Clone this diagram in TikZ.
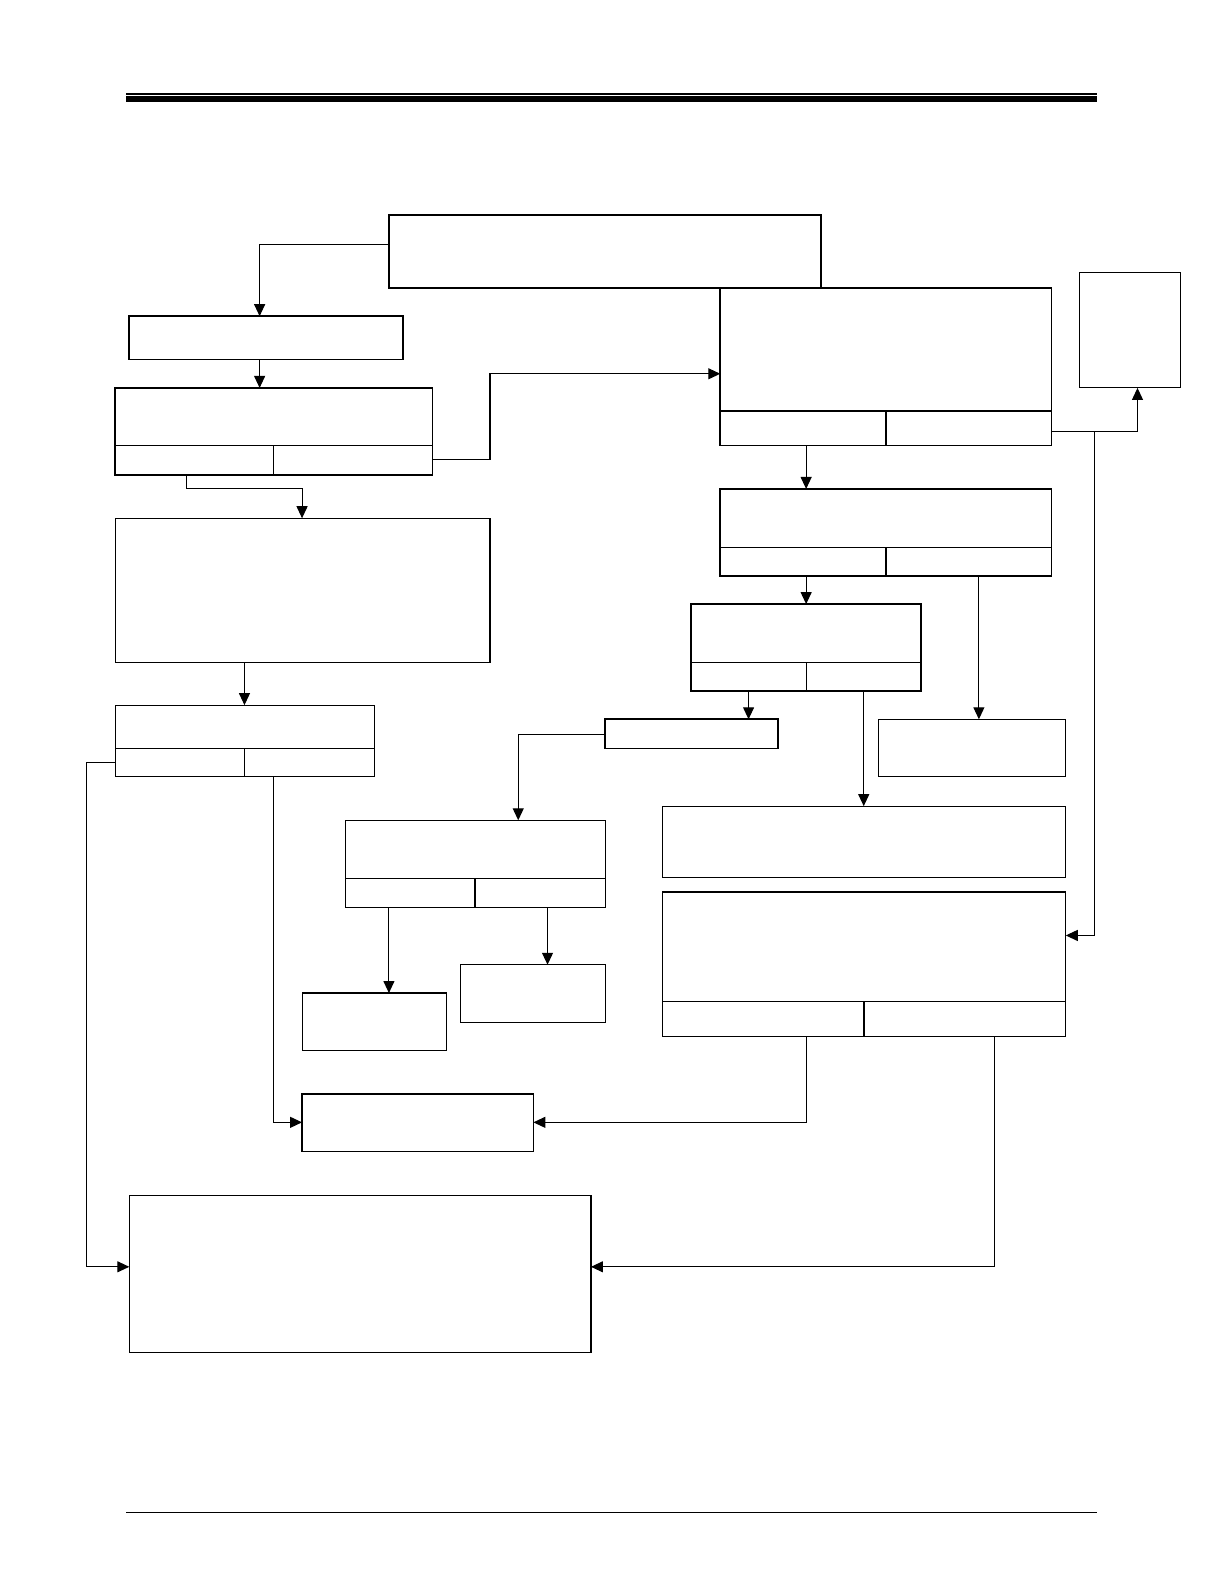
\documentclass[tikz,border=0pt]{standalone}
\usetikzlibrary{fit,arrows.meta}
\begin{document}
\begin{tikzpicture}[x=1.0099pt,y=-1.0099pt,
  box/.style={draw, line width=1.1pt, inner sep=0pt, outer sep=0pt, fill=none},
  tbox/.style={box, line width=1.7pt},
  div/.style={line width=1.1pt},
  con/.style={line width=1.1pt},
  arr/.style={con, -{Triangle[length=12pt,width=11pt]}}]
\useasboundingbox (0,0) rectangle (1212,1568);
% header and footer rules
\fill (125,92.2) rectangle (1086,94.4);
\fill (125,95.2) rectangle (1086,100.8);
\fill (125,1496.3) rectangle (1086,1497.7);
% boxes
\node[tbox, fit={(385,213) (813,285)}] (A) {};
\node[tbox, fit={(128,313) (399,356)}] (B) {};
\node[tbox, fit={(114,384) (428,470)}] (C) {};
\node[tbox, fit={(713,285) (1041,441)}] (D) {};
\node[box, fit={(1069,270) (1169,384)}] (G) {};
\node[box, fit={(114,513) (485,656)}] (E) {};
\node[box, fit={(114,698) (371,769)}] (F) {};
\node[tbox, fit={(713,484) (1041,570)}] (H) {};
\node[tbox, fit={(684,598) (912,684)}] (I) {};
\node[tbox, fit={(599,712) (770,741)}] (N) {};
\node[box, fit={(870,712) (1055,769)}] (L) {};
\node[box, fit={(656,798) (1055,869)}] (O) {};
\node[box, fit={(656,883) (1055,1026)}] (M) {};
\node[box, fit={(342,812) (599,898)}] (P) {};
\node[box, fit={(299,983) (442,1040)}] (Q) {};
\node[box, fit={(456,955) (599,1012)}] (R) {};
\node[tbox, fit={(299,1083) (528,1140)}] (J) {};
\node[box, fit={(128,1183) (585,1339)}] (K) {};
% dividers
\draw[div] (C.west |- 0,441) -- (C.east |- 0,441);
\draw[div] (271,441) -- (C.south -| 271,0);
\draw[tbox] (D.west |- 0,407) -- (D.east |- 0,407);
\draw[div] (877,407) -- (D.south -| 877,0);
\draw[div] (H.west |- 0,542) -- (H.east |- 0,542);
\draw[div] (877,542) -- (H.south -| 877,0);
\draw[div] (I.west |- 0,656) -- (I.east |- 0,656);
\draw[div] (798,656) -- (I.south -| 798,0);
\draw[div] (F.west |- 0,741) -- (F.east |- 0,741);
\draw[tbox] (242,741) -- (F.south -| 242,0);
\draw[div] (P.west |- 0,870) -- (P.east |- 0,870);
\draw[tbox] (470,870) -- (P.south -| 470,0);
\draw[div] (M.west |- 0,991) -- (M.east |- 0,991);
\draw[tbox] (855,991) -- (M.south -| 855,0);
% connectors
\draw[arr] (A.west |- 0,242) -| (B.north -| 257,0);
\draw[arr] (B.south -| 257,0) -- (C.north -| 257,0);
\draw[arr] (C.east |- 0,455) -- (485,455) |- (D.west |- 0,370);
\draw[arr] (C.south -| 185,0) -- (185,484) -| (E.north -| 299,0);
\draw[arr] (E.south -| 242,0) -- (F.north -| 242,0);
\draw[arr] (F.west |- 0,755) -- (86,755) |- (K.west |- 0,1254);
\draw[arr] (F.south -| 271,0) |- (J.west |- 0,1111);
\coordinate (jn) at (1083,427);
\draw[arr] (D.east |- 0,427) -| (G.south -| 1126,0);
\draw[arr] (jn) |- (M.east |- 0,926);
\draw[arr] (D.south -| 798,0) -- (H.north -| 798,0);
\draw[arr] (H.south -| 798,0) -- (I.north -| 798,0);
\draw[arr] (H.south -| 969,0) -- (L.north -| 969,0);
\draw[arr] (I.south -| 741,0) -- (N.north -| 741,0);
\draw[arr] (I.south -| 855,0) -- (O.north -| 855,0);
\draw[arr] (N.west |- 0,727) -| (P.north -| 513,0);
\draw[arr] (P.south -| 385,0) -- (Q.north -| 385,0);
\draw[arr] (P.south -| 542,0) -- (R.north -| 542,0);
\draw[arr] (M.south -| 798,0) |- (J.east |- 0,1111);
\draw[arr] (M.south -| 984,0) |- (K.east |- 0,1254);
\end{tikzpicture}
\end{document}
